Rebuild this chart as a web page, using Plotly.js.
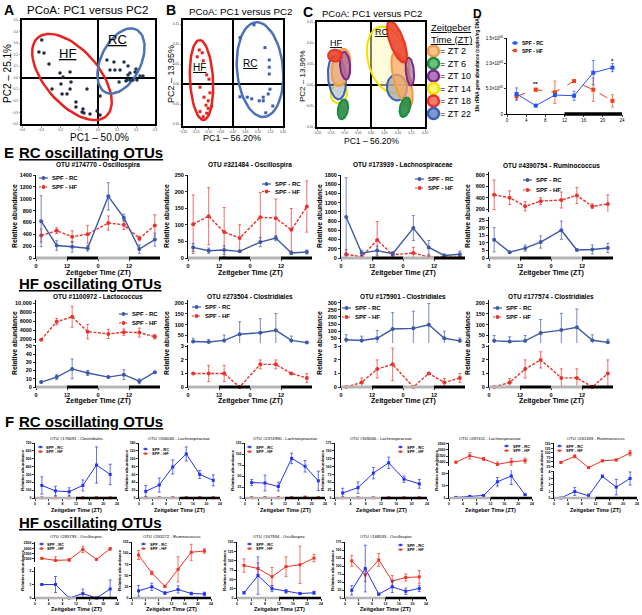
<!DOCTYPE html>
<html><head><meta charset="utf-8">
<script src="https://cdn.plot.ly/plotly-3.0.1.min.js"></script>
<style>html,body{margin:0;padding:0;background:#fff}#chart{width:642px;height:615px}</style>
</head><body><div id="chart"></div>
<script>
// ================= DATA =================
// Panel A: PCoA points (PC1, PC2)
const aHFx = [-0.296,-0.311,-0.284,-0.258,-0.200,-0.147,-0.184,-0.142,-0.195,-0.242,-0.147,-0.058,-0.163,-0.189,-0.116,-0.079,-0.074,-0.005,-0.084,-0.042,0.011,-0.116,0.011];
const aHFy = [0.327,0.223,0.214,0.119,0.041,0.050,0.007,-0.037,-0.054,-0.097,-0.097,-0.097,-0.140,-0.140,-0.210,-0.270,-0.305,-0.287,-0.296,-0.313,-0.322,-0.253,-0.158];
const aRCx = [0.047,0.084,0.137,0.158,0.063,0.089,0.116,0.168,0.200,0.195,0.158,0.153,0.168,0.184,0.205,0.221,0.237,0.111,0.147];
const aRCy = [0.154,0.137,0.137,0.102,0.067,0.067,0.067,0.041,0.076,0.050,0.024,-0.019,-0.019,-0.019,-0.019,0.015,0.015,-0.037,-0.028];
// ellipses: [cx, cy, semi-major, semi-minor (x units), angle deg]
const ellA_HF = [-0.137, 0.007, 0.274, 0.142, -49];
const ellA_RC = [0.121, 0.145, 0.184, 0.105, 64];

// Panel B
const bHFx = [-0.135,-0.123,-0.143,-0.119,-0.105,-0.096,-0.132,-0.092,-0.116,-0.099,-0.108,-0.099,-0.132,-0.105,-0.119,-0.085];
const bHFy = [0.085,0.078,0.068,0.058,0.023,0.012,-0.008,-0.022,-0.033,-0.042,-0.053,-0.061,-0.069,-0.073,-0.082,-0.055];
const bRCx = [0.028,0.084,0.128,0.145,0.145,0.145,0.075,0.057,0.105,0.121,0.121,0.148,0.141,0.131,0.159,0.028];
const bRCy = [0.116,0.148,0.091,0.060,0.042,0.025,-0.037,-0.033,-0.042,-0.042,-0.033,-0.013,-0.025,-0.072,-0.055,-0.032];
const ellB_HF = [-0.126, 0.010, 0.160, 0.046, 93];
const ellB_RC = [0.108, 0.036, 0.190, 0.092, 95];

// Panel C: ellipses per Zeitgeber time
const ztNames = ['ZT 2','ZT 6','ZT 10','ZT 14','ZT 18','ZT 22'];
const cHF = [[-0.111,0.042,0.070,0.033,80],[-0.104,-0.058,0.037,0.0185,80],[-0.096,0.046,0.052,0.0185,95],[-0.119,-0.020,0.037,0.030,80],[-0.133,0.070,0.026,0.022,0],[-0.126,0.018,0.081,0.033,95]];
const cRC = [[0.115,0.013,0.104,0.030,105],[0.126,-0.053,0.037,0.0185,75],[0.144,0.032,0.052,0.015,95],[0.063,0.060,0.126,0.074,105],[0.096,0.103,0.081,0.026,110],[0.096,-0.006,0.048,0.037,95]];

// Panel D: 16s rRNA gene abundance
const ztD = [2,6,10,14,18,22];
const dRC = [3.95e5,1.65e5,3.75e5,3.6e5,8.15e5,9.15e5];
const dRCerr = [1.2e5,0.1e5,0.3e5,0.9e5,2.4e5,0.8e5];
const dHF = [3.5e5,4.8e5,4.3e5,6.5e5,4.8e5,2.6e5];
const dHFerr = [0.7e5,0.3e5,2.2e5,0.2e5,2.3e5,1.2e5];

// Panel E
const ztE = [2,8,14,20,28,34,40,46];
const eTicks = [0,12,24,36];
const eTickText = ['0','12','0','12'];
const eRC_titles = ['OTU #174770 - Oscillospira','OTU #321484 - Oscillospira','OTU #173939 - Lachnospiraceae','OTU #4390754 - Ruminococcus'];
const eRC_rc = [[620,210,190,165,1040,680,150,310],[32,22,24,20,48,60,15,18],[890,110,160,95,650,230,55,80],[12,3.8,6.5,10.5,18.3,5.3,5.6,6.6]];
const eRC_rcErr = [[430,80,90,50,230,60,70,110],[12,8,13,3,14,8,4,6],[850,60,100,40,270,150,30,70],[8,0.5,2,4,6,0.5,3,3]];
const eRC_hf = [[380,460,360,400,590,560,330,550],[102,126,78,60,123,120,85,155],[80,25,390,70,110,20,15,15],[450,400,250,340,360,440,250,290]];
const eRC_hfErr = [[110,50,100,150,120,80,40,180],[88,86,74,40,74,58,64,77],[100,20,400,30,120,20,20,20],[260,120,80,60,140,140,40,160]];
const eHF_titles = ['OTU #1100972 - Lactococcus','OTU #273504 - Clostridiales','OTU #175901 - Clostridiales','OTU #177574 - Clostridiales'];
const eHF_rc = [[6,12,22,17,12,15,7,18],[22,20,27,56,63,74,27,17],[40,35,50,115,120,145,50,32],[25,22,25,62,75,88,28,18]];
const eHF_rcErr = [[1,3,12,3,1,6,3,1],[15,12,25,58,65,78,20,5],[35,30,55,115,120,150,50,20],[25,22,25,62,78,85,25,15]];
const eHF_hf = [[1900,5900,7000,3700,3200,3600,3500,2600],[1,1,1,0,1.67,1.67,1,0.67],[0,0.33,1.33,1.67,0,1,0.33,0.67],[0,0.33,1.33,2,0.67,0.67,0,1]];
const eHF_hfErr = [[100,700,2300,1600,1000,700,1000,500],[0,0.6,0.6,0,0.33,0.33,0,0.33],[0,0.33,0.67,1.2,0,0.05,0.3,0.33],[0,0.3,0.67,0.6,0.67,0.67,0,1]];

// Panel F
const ztF = [2,6,10,14,18,22];
const fTicks = [0,4,8,12,16,20,24];
const fRC_titles = ['OTU #176691 - Clostridiales','OTU #306066 - Lachnospiraceae','OTU #2374990 - Lachnospiraceae','OTU #309066 - Lachnospiraceae','OTU #287411 - Lachnospiraceae','OTU #261369 - Ruminococcus'];
const fRC_rc = [[160,90,80,160,420,300],[17,33,79,112,60,45],[35,34,26,90,72,39],[16,33,79,112,60,45],[0.5,1.3,2.1,13.3,18.1,2.7],[0,1,0.33,3.33,1.67,3]];
const fRC_rcErr = [[110,60,50,70,230,130],[15,18,18,18,10,14],[7,18,10,12,13,22],[15,18,18,18,10,14],[0.4,0.5,0.3,3.5,7,0.5],[0,0.6,0.3,0.2,1.2,1]];
const fRC_hf = [[3,3,3,3,3,3],[1,1,1,1,1,1],[1,1,1,1,2,1],[1,1,1,1,1,1],[1000,1520,1260,820,1030,1130],[47,81,18,56,61,99]];
const fRC_hfErr = [[0,0,0,0,0,0],[0,0,0,0,0,0],[0,0,0,0,0,0],[0,0,0,0,0,0],[50,270,120,200,280,200],[4,8,3,5,5,15]];
const fHF_titles = ['OTU #285793 - Oscillospira','OTU #263272 - Ruminococcus','OTU #167934 - Oscillospira','OTU #168535 - Oscillospira'];
const fHF_rc = [[1,1,0,0.33,0,0.67],[16,25,11,19,10,9],[14,60,25,18,12,14],[24,92,12,35,21,30]];
const fHF_rcErr = [[0,0.6,0,0.33,0,0.67],[12,8,3,8,3,4],[3,50,8,5,3,4],[15,73,3,18,10,10]];
const fHF_hf = [[1050,850,900,1900,950,1950],[96,56,26,64,102,105],[87,79,57,84,89,107],[116,72,119,53,64,66]];
const fHF_hfErr = [[50,350,120,300,40,120],[10,4,2,28,18,5],[18,15,25,26,50,10],[17,20,20,17,11,20]];

// ================= LAYOUT HELPERS =================
const FONT = 'Liberation Sans, Arial, Helvetica, sans-serif';
const W = 642, H = 615;
const traces = [];
const layout = {width:W, height:H, margin:{l:0,r:0,t:0,b:0}, paper_bgcolor:'#fff', plot_bgcolor:'rgba(0,0,0,0)',
  showlegend:false, font:{family:FONT, color:'#000'}, annotations:[], shapes:[]};
let nx=0, ny=0;
const xid=n=>n===1?'x':'x'+n, yid=n=>n===1?'y':'y'+n;
const xkey=n=>n===1?'xaxis':'xaxis'+n, ykey=n=>n===1?'yaxis':'yaxis'+n;
function addPanel(bx0,bx1,by0,by1,xo,yo){
  const a=++nx, b=++ny;
  layout[xkey(a)] = Object.assign({domain:[bx0/W,bx1/W], anchor:yid(b)}, xo);
  layout[ykey(b)] = Object.assign({domain:[1-by1/H,1-by0/H], anchor:xid(a)}, yo);
  return {x:xid(a), y:yid(b), box:[bx0,bx1,by0,by1]};
}
function addYOn(p, by0, by1, yo){
  const b=++ny;
  layout[ykey(b)] = Object.assign({domain:[1-by1/H,1-by0/H], anchor:p.x}, yo);
  return yid(b);
}
function ann(text, xpx, ypx, opt){
  opt = opt||{};
  const font = Object.assign({family:FONT, size:8, color:'#000'}, opt.font||{});
  layout.annotations.push(Object.assign({text, x:xpx/W, y:1-ypx/H, xref:'paper', yref:'paper', showarrow:false,
    xanchor:'center', yanchor:'middle'}, opt, {font}));
}
function axBase(fs){
  return {showline:true, linecolor:'#000', linewidth:1, ticks:'outside', ticklen:2, tickwidth:0.8, tickcolor:'#000',
    showgrid:false, zeroline:false, exponentformat:'none', fixedrange:true,
    tickfont:{family:FONT, size:fs, color:'#000', weight:'bold'}};
}
function pcoaAx(range, dtick, fmt){
  return {range, dtick, tick0:0, tickformat:fmt, showline:true, mirror:true, linewidth:2, linecolor:'#000',
    zeroline:true, zerolinewidth:2.5, zerolinecolor:'#000', showgrid:false, ticks:'outside', ticklen:1.5,
    tickwidth:0.5, tickcolor:'#444', tickfont:{family:FONT, size:3, color:'#333'}, fixedrange:true};
}
function ellipseXY(e, pxX, pxY){
  const cx=e[0], cy=e[1], a=e[2], b=e[3], th=e[4]*Math.PI/180;
  const xs=[], ys=[];
  for(let i=0;i<=72;i++){
    const t=i/72*2*Math.PI;
    const u=a*pxX*Math.cos(t), v=b*pxX*Math.sin(t);
    const du=u*Math.cos(th)-v*Math.sin(th), dv=u*Math.sin(th)+v*Math.cos(th);
    xs.push(cx+du/pxX); ys.push(cy+dv/pxY);
  }
  return {xs, ys};
}
function pxPer(p, xr, yr){
  return [(p.box[1]-p.box[0])/(xr[1]-xr[0]), (p.box[3]-p.box[2])/(yr[1]-yr[0])];
}
function ellTrace(p, e, s, line, width, fill){
  const r = ellipseXY(e, s[0], s[1]);
  traces.push({x:r.xs, y:r.ys, xaxis:p.x, yaxis:p.y, mode:'lines', line:{color:line, width},
    fill: fill?'toself':'none', fillcolor: fill||undefined, hoverinfo:'skip'});
}
function legendBox(xpx, ypx, gap, fs, L, r, items){
  items.forEach((it,i)=>{
    const y = ypx + i*gap;
    layout.shapes.push({type:'line', xref:'paper', yref:'paper', x0:xpx/W, x1:(xpx+L)/W, y0:1-y/H, y1:1-y/H,
      line:{color:it.color, width:it.lw||1.2, dash:it.dash||'solid'}});
    const cx = xpx+L/2;
    layout.shapes.push({type:it.sym==='square'?'rect':'circle', xref:'paper', yref:'paper',
      x0:(cx-r)/W, x1:(cx+r)/W, y0:1-(y+r)/H, y1:1-(y-r)/H, fillcolor:it.color, line:{width:0}});
    ann(it.name, xpx+L+1.5, y, {xanchor:'left', font:{size:fs, weight:'bold'}});
  });
}
function series(xs, ys, errs, xa, ya, color, dash, sym, ms, lw){
  traces.push({x:xs, y:ys, xaxis:xa, yaxis:ya, mode:'lines+markers', cliponaxis:false,
    line:{color, width:lw, dash}, marker:{color, size:ms, symbol:sym},
    error_y:{type:'data', array:errs, visible:true, color, thickness:0.7, width:1.5}, hoverinfo:'skip'});
}
function ldBars(p, yref, segs, w){
  segs.forEach(s=>layout.shapes.push({type:'line', xref:p.x, yref:yref+' domain', x0:s[0], x1:s[1], y0:0, y1:0,
    line:{color:s[2], width:w}, layer:'above'}));
}
// generic time plot (simple or broken y axis)
function timePlot(xpx, ytop, ybot, xcfg, ycfg, fs, rc, rcErr, hf, hfErr, xs, st){
  let p, yRC, yHF;
  const xo = Object.assign(axBase(fs), xcfg);
  if (ycfg.main){
    p = addPanel(xpx[0], xpx[1], ytop, ybot, xo, Object.assign(axBase(fs), {range:ycfg.main, dtick:ycfg.dtick, tick0:0}));
    yRC = yHF = p.y;
  } else {
    const lo = ycfg.lower, up = ycfg.upper;
    p = addPanel(xpx[0], xpx[1], lo.dom[0], lo.dom[1], xo, Object.assign(axBase(fs), {range:lo.range, tickvals:lo.tickvals}));
    const yu = addYOn(p, up.dom[0], up.dom[1], Object.assign(axBase(fs), {range:up.range, tickvals:up.tickvals}));
    if (up.series==='hf'){ yHF = yu; yRC = p.y; } else { yRC = yu; yHF = p.y; }
  }
  series(xs, hf, hfErr, p.x, yHF, st.hf, st.hfDash, st.symHF, st.ms, st.lw);
  series(xs, rc, rcErr, p.x, yRC, st.rc, 'solid', st.symRC, st.ms, st.lw);
  ldBars(p, p.y, st.bars, st.barW);
  return p;
}

// ================= PANEL A =================
ann('<b>A</b>', 9, 10, {font:{size:14}});
ann('PCoA: PC1 versus PC2', 25, 10, {xanchor:'left', font:{size:11.5}});
const xrA=[-0.4,0.3], yrA=[-0.4,0.5];
const pA = addPanel(22,155,20,124, pcoaAx(xrA,0.1,'.1f'), pcoaAx(yrA,0.1,'.1f'));
const sA = pxPer(pA, xrA, yrA);
ellTrace(pA, ellA_HF, sA, '#e8231f', 2.5);
ellTrace(pA, ellA_RC, sA, '#4a72b8', 2.5);
traces.push({x:aHFx, y:aHFy, xaxis:pA.x, yaxis:pA.y, mode:'markers', marker:{size:3.5, color:'#2a2440'}, hoverinfo:'skip'});
traces.push({x:aRCx, y:aRCy, xaxis:pA.x, yaxis:pA.y, mode:'markers', marker:{size:3.5, color:'#1d3550'}, hoverinfo:'skip'});
layout.annotations.push({text:'<u>HF</u>', x:-0.158, y:0.206, xref:pA.x, yref:pA.y, showarrow:false, font:{family:FONT,size:13}});
layout.annotations.push({text:'<u>RC</u>', x:0.105, y:0.327, xref:pA.x, yref:pA.y, showarrow:false, font:{family:FONT,size:13}});
ann('PC2 – 25.1%', 7, 74, {textangle:-90, font:{size:10}});
ann('PC1 – 50.0%', 99, 137, {font:{size:10}});

// ================= PANEL B =================
ann('<b>B</b>', 171, 10, {font:{size:14}});
ann('PCoA: PC1 versus PC2', 187, 11, {xanchor:'left', font:{size:9.8}});
const xrB=[-0.2,0.2], yrB=[-0.105,0.16];
const pB = addPanel(183,283,20,126, pcoaAx(xrB,0.05,'.2f'), pcoaAx(yrB,0.05,'.2f'));
const sB = pxPer(pB, xrB, yrB);
ellTrace(pB, ellB_HF, sB, '#e8231f', 2.5);
ellTrace(pB, ellB_RC, sB, '#4a72b8', 2.5);
traces.push({x:bHFx, y:bHFy, xaxis:pB.x, yaxis:pB.y, mode:'markers', marker:{size:3, symbol:'square', color:'#e8231f'}, hoverinfo:'skip'});
traces.push({x:bRCx, y:bRCy, xaxis:pB.x, yaxis:pB.y, mode:'markers', marker:{size:3, symbol:'square', color:'#3a5fb0'}, hoverinfo:'skip'});
layout.annotations.push({text:'<u>HF</u>', x:-0.132, y:0.040, xref:pB.x, yref:pB.y, showarrow:false, font:{family:FONT,size:10}});
layout.annotations.push({text:'<u>RC</u>', x:0.068, y:0.052, xref:pB.x, yref:pB.y, showarrow:false, font:{family:FONT,size:10}});
ann('PC2 – 13.95%', 171, 74, {textangle:-90, font:{size:9}});
ann('PC1 – 56.20%', 232, 137.5, {font:{size:9}});

// ================= PANEL C =================
ann('<b>C</b>', 308, 12, {font:{size:14}});
ann('PCoA: PC1 versus PC2', 320, 14, {xanchor:'left', font:{size:9.5}});
const xrC=[-0.2,0.2], yrC=[-0.1,0.15];
const pC = addPanel(317,425,22,127, pcoaAx(xrC,0.05,'.2f'), pcoaAx(yrC,0.05,'.2f'));
const sC = pxPer(pC, xrC, yrC);
const cLine = ['#f39a45','#1e8a3c','#7a2a8c','#f2e200','#ea3323','#3b5fb5'];
const cFill = ['rgba(247,170,100,0.75)','rgba(40,140,70,0.9)','rgba(140,70,160,0.55)','rgba(252,248,180,0.5)','rgba(235,60,40,0.85)','rgba(130,160,215,0.45)'];
[3,5,0,2,4,1].forEach(i=>{
  ellTrace(pC, cHF[i], sC, cLine[i], 2, cFill[i]);
  ellTrace(pC, cRC[i], sC, cLine[i], 2, i===5?'rgba(165,165,165,0.75)':cFill[i]);
});
layout.annotations.push({text:'<u>HF</u>', x:-0.126, y:0.100, xref:pC.x, yref:pC.y, showarrow:false, font:{family:FONT,size:9}});
layout.annotations.push({text:'<u>RC</u>', x:0.041, y:0.126, xref:pC.x, yref:pC.y, showarrow:false, font:{family:FONT,size:9}});
ann('PC2 – 13.96%', 303, 76, {textangle:-90, font:{size:8}});
ann('PC1 – 56.20%', 372, 140.5, {font:{size:8.5}});
// ZT legend
ann('<u>Zeitgeber</u>', 429, 27, {xanchor:'left', font:{size:9.5}});
ann('<u>Time (ZT)</u>', 429, 39, {xanchor:'left', font:{size:9.5}});
const ztLight = ['#f9c38a','#6cc07e','#b07abd','#fbf27a','#f47a6e','#7e98d2'];
const ztY = [51,63.5,76,88.5,101,113.5];
ztNames.forEach((n,i)=>{
  layout.shapes.push({type:'circle', xref:'paper', yref:'paper', x0:428/W, x1:439/W, y0:1-(ztY[i]+5.5)/H, y1:1-(ztY[i]-5.5)/H,
    fillcolor:ztLight[i], line:{color:cLine[i], width:2.5}});
  ann('= '+n, 438, ztY[i], {xanchor:'left', font:{size:9}});
});

// ================= PANEL D =================
ann('<b>D</b>', 477, 14, {font:{size:12}});
const pD = addPanel(507,622,38,114,
  Object.assign(axBase(4.5), {range:[0,24], tickvals:[0,4,8,12,16,20,24], tickfont:{family:FONT,size:4.5,color:'#000'}}),
  Object.assign(axBase(4.5), {range:[0,1.5e6], tickvals:[0,5e5,1e6,1.5e6],
    ticktext:['0','5.0×10<sup>05</sup>','1.0×10<sup>06</sup>','1.5×10<sup>06</sup>'], tickfont:{family:FONT,size:4.5,color:'#000'}}));
series(ztD, dHF, dHFerr, pD.x, pD.y, '#f0401a', 'dash', 'square', 4, 1);
series(ztD, dRC, dRCerr, pD.x, pD.y, '#2750f5', 'solid', 'square', 4, 1);
ldBars(pD, pD.y, [[12,24,'#000']], 3.5);
layout.annotations.push({text:'**', x:6, y:6.0e5, xref:pD.x, yref:pD.y, showarrow:false, font:{family:FONT,size:6,weight:'bold'}});
layout.annotations.push({text:'*', x:22, y:1.05e6, xref:pD.x, yref:pD.y, showarrow:false, font:{family:FONT,size:6,weight:'bold'}});
ann('16s rRNA gene abundance (copies/ng DNA)', 478, 64, {textangle:-90, font:{size:4.6, weight:'bold'}});
legendBox(512, 43, 7.5, 5, 6, 1.7, [{name:'SPF - RC', color:'#2750f5', sym:'square'},{name:'SPF - HF', color:'#f0401a', sym:'square', dash:'2px,1px'}]);

// ================= PANEL E =================
const eXs = [[36,160],[188,312],[341,465],[489,613]];
const eX = {range:[0,48], tickvals:eTicks, ticktext:eTickText};
const eStyle = {rc:'#3d58a8', hf:'#e8322b', hfDash:'3px,1.5px', symRC:'circle', symHF:'circle', ms:4, lw:1.4,
  bars:[[0,12,'#b4b4b4'],[12,24,'#000'],[24,36,'#b4b4b4'],[36,48,'#000']], barW:3};
const eRC_y = [
  {main:[0,1400], dtick:200},
  {main:[0,250], dtick:50},
  {main:[0,1800], dtick:200},
  {upper:{dom:[172,212], range:[150,850], tickvals:[200,400,600,800], series:'hf'}, lower:{dom:[217,258], range:[0,27], tickvals:[0,5,10,15,20,25]}}
];
const eHF_y = [
  {upper:{dom:[300,343], range:[1200,10700], tickvals:[2000,4000,6000,8000,10000], series:'hf'}, lower:{dom:[345,387], range:[0,51], tickvals:[0,10,20,30,40,50]}},
  {upper:{dom:[300,343], range:[15,215], tickvals:[50,100,150,200], series:'rc'}, lower:{dom:[345,387], range:[0,3.1], tickvals:[0,1,2,3]}},
  {upper:{dom:[300,343], range:[17,319], tickvals:[50,100,150,200,250,300], series:'rc'}, lower:{dom:[345,387], range:[0,3.1], tickvals:[0,1,2,3]}},
  {upper:{dom:[300,343], range:[15,215], tickvals:[50,100,150,200], series:'rc'}, lower:{dom:[345,387], range:[0,3.1], tickvals:[0,1,2,3]}}
];
ann('<b>E</b>', 9, 152, {font:{size:15}});
ann('<b><u>RC oscillating OTUs</u></b>', 17, 152, {xanchor:'left', font:{size:15}});
ann('<b><u>HF oscillating OTUs</u></b>', 17, 283, {xanchor:'left', font:{size:15}});
const eLegRC = [[39,178,9],[262,184,7.5],[415,179,9],[523,180,10]];
const eLegHF = [[119,314,9],[192,307,9],[342,308,9],[493,308,9]];
for (let i=0;i<4;i++){
  const cx = (eXs[i][0]+eXs[i][1])/2;
  timePlot(eXs[i], 175, 258, eX, eRC_y[i], 5.5, eRC_rc[i], eRC_rcErr[i], eRC_hf[i], eRC_hfErr[i], ztE, eStyle);
  ann('<b>'+eRC_titles[i]+'</b>', cx, 165, {font:{size:6.5}});
  ann('<b>Relative abundance</b>', eXs[i][0]-22, 216, {textangle:-90, font:{size:6.8}});
  ann('<b>Zeitgeber Time (ZT)</b>', cx, 273, {font:{size:7}});
  legendBox(eLegRC[i][0], eLegRC[i][1], eLegRC[i][2], 6, 9, 1.9, [{name:'SPF - RC', color:eStyle.rc},{name:'SPF - HF', color:eStyle.hf, dash:'2px,1px'}]);

  timePlot(eXs[i], 300, 387, eX, eHF_y[i], 5.5, eHF_rc[i], eHF_rcErr[i], eHF_hf[i], eHF_hfErr[i], ztE, eStyle);
  ann('<b>'+eHF_titles[i]+'</b>', cx, 296, {font:{size:6.5}});
  ann('<b>Relative abundance</b>', eXs[i][0]-22, 343, {textangle:-90, font:{size:6.8}});
  ann('<b>Zeitgeber Time (ZT)</b>', cx, 401, {font:{size:7}});
  legendBox(eLegHF[i][0], eLegHF[i][1], eLegHF[i][2], 6, 9, 1.9, [{name:'SPF - RC', color:eStyle.rc},{name:'SPF - HF', color:eStyle.hf, dash:'2px,1px'}]);
}

// ================= PANEL F =================
const fX = {range:[0,24], tickvals:fTicks};
const fStyle = {rc:'#2233ee', hf:'#ee3322', hfDash:'solid', symRC:'square', symHF:'square', ms:3, lw:1,
  bars:[[0,12,'#b4b4b4'],[12,24,'#000']], barW:2.5};
const fRowX1 = [[35,117],[139,220],[245,325],[335,427],[449,532],[554,637]];
const fRowX2 = [[35,117],[132,211],[237,321],[345,426]];
const fRC_y = [
  {main:[0,700], dtick:100},
  {main:[0,140], dtick:20},
  {main:[0,125], dtick:25},
  {main:[0,175], dtick:25},
  {upper:{dom:[443,466], range:[690,2560], tickvals:[1000,1500,2000,2500], series:'hf'}, lower:{dom:[470,498], range:[0,23], tickvals:[0,10,20]}},
  {upper:{dom:[443,468], range:[16,155], tickvals:[25,50,75,100,125,150], series:'hf'}, lower:{dom:[471,498], range:[0,4.15], tickvals:[0,1,2,3,4]}}
];
const fHF_y = [
  {upper:{dom:[542,562], range:[700,2600], tickvals:[1000,1500,2000,2500], series:'hf'}, lower:{dom:[567,598], range:[0,2.3], tickvals:[0,1,2]}},
  {main:[0,125], dtick:25},
  {main:[0,150], dtick:25},
  {main:[0,175], dtick:25}
];
ann('<b>F</b>', 9, 421, {font:{size:15}});
ann('<b><u>RC oscillating OTUs</u></b>', 17, 421, {xanchor:'left', font:{size:15}});
ann('<b><u>HF oscillating OTUs</u></b>', 17, 522, {xanchor:'left', font:{size:15}});
const fLegRC = [[38,447],[143,449],[247,447],[398,447],[504,446],[557,446]];
const fLegHF = [[39,544],[141,544],[247,544],[398,545]];
for (let i=0;i<6;i++){
  const xp = fRowX1[i];
  timePlot(xp, 443, 498, fX, fRC_y[i], 3.4, fRC_rc[i], fRC_rcErr[i], fRC_hf[i], fRC_hfErr[i], ztF, fStyle);
  ann(fRC_titles[i], (xp[0]+xp[1])/2, 438, {font:{size:4.2}});
  ann('<b>Relative abundance</b>', xp[0]-13, 470, {textangle:-90, font:{size:4.4}});
  ann('<b>Zeitgeber Time (ZT)</b>', (xp[0]+xp[1])/2, 509.5, {font:{size:5.5}});
  legendBox(fLegRC[i][0], fLegRC[i][1], 4.6, 4, 5, 1.2, [{name:'SPF - RC', color:fStyle.rc, sym:'square', lw:0.8},{name:'SPF - HF', color:fStyle.hf, sym:'square', lw:0.8}]);
}
for (let i=0;i<4;i++){
  const xp = fRowX2[i];
  timePlot(xp, 542, 598, fX, fHF_y[i], 3.4, fHF_rc[i], fHF_rcErr[i], fHF_hf[i], fHF_hfErr[i], ztF, fStyle);
  ann(fHF_titles[i], (xp[0]+xp[1])/2, 536, {font:{size:4.2}});
  ann('<b>Relative abundance</b>', xp[0]-13, 570, {textangle:-90, font:{size:4.4}});
  ann('<b>Zeitgeber Time (ZT)</b>', (xp[0]+xp[1])/2, 608.5, {font:{size:5.5}});
  legendBox(fLegHF[i][0], fLegHF[i][1], 4.6, 4, 5, 1.2, [{name:'SPF - RC', color:fStyle.rc, sym:'square', lw:0.8},{name:'SPF - HF', color:fStyle.hf, sym:'square', lw:0.8}]);
}

Plotly.newPlot('chart', traces, layout, {displayModeBar:false, staticPlot:true});
</script>
</body></html>
